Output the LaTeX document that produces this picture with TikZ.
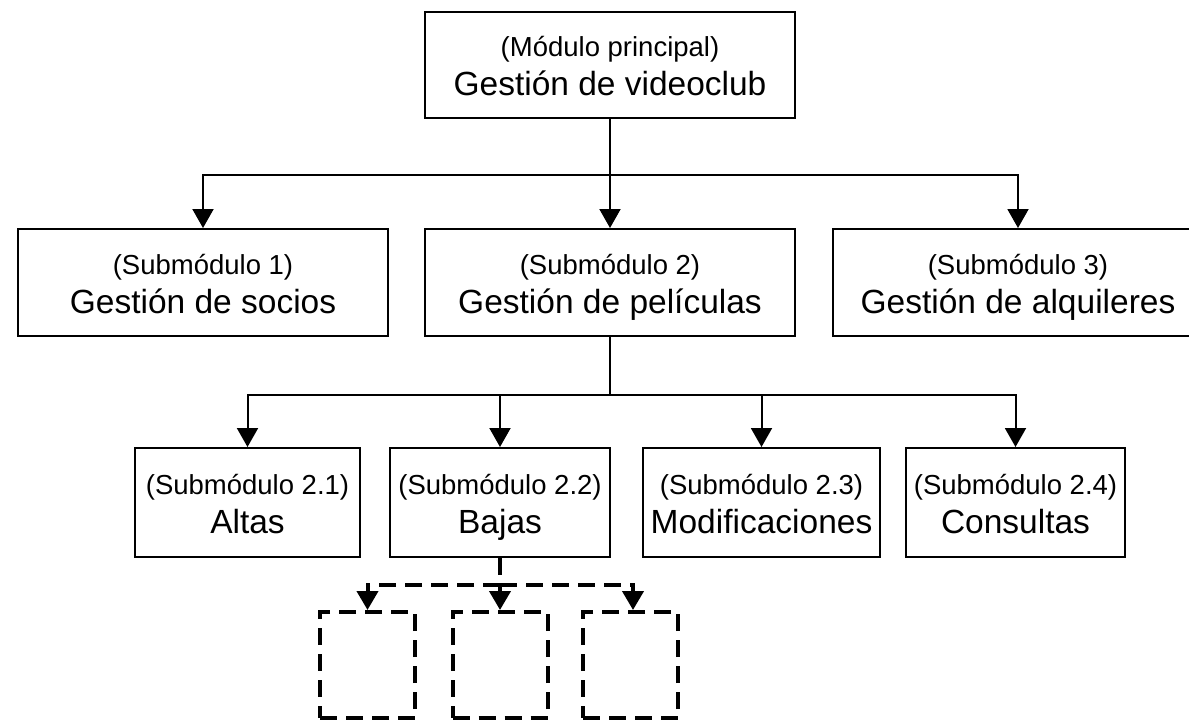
\documentclass[tikz,border=0pt]{standalone}
\usepackage{fontspec}
\setmainfont{Liberation Sans}
\usetikzlibrary{arrows.meta}
\newcommand{\twolines}[2]{{\fontsize{27.5}{39}\selectfont\rule{0pt}{30pt}#1}\\\rule[-8pt]{0pt}{8pt}#2}
\begin{document}
\begin{tikzpicture}[x=1pt,y=-1pt,
  box/.style={draw, line width=2pt, inner sep=0pt, minimum height=107pt, align=center,
    font=\fontsize{33.5}{39}\selectfont},
  dbox/.style={draw, line width=4pt, dash pattern=on 17pt off 9pt,
    minimum width=95pt, minimum height=106pt, inner sep=0pt},
  conn/.style={line width=2pt},
  arr/.style={conn, -{Triangle[width=21pt,length=19pt]}},
  dline/.style={line width=4pt, dash pattern=on 17pt off 9pt},
  darr/.style={dline, -{Triangle[width=21pt,length=19pt]}}]
\useasboundingbox (0,0) rectangle (1189,723);
\clip (0,0) rectangle (1189,723);
\fill[white] (0,0) rectangle (1189,723);
% top
\node[box, minimum width=370pt, minimum height=106pt] (main) at (610,65)
  {\twolines{(Módulo principal)}{Gestión de videoclub}};
% level 2
\node[box, minimum width=370pt] (s1) at (203,282.5)
  {\twolines{(Submódulo 1)}{Gestión de socios}};
\node[box, minimum width=370pt] (s2) at (610,282.5)
  {\twolines{(Submódulo 2)}{Gestión de películas}};
\node[box, minimum width=370pt] (s3) at (1018,282.5)
  {\twolines{(Submódulo 3)}{Gestión de alquileres}};
% level 3
\node[box, minimum width=225pt, minimum height=109pt] (s21) at (247.5,502.5)
  {\twolines{(Submódulo 2.1)}{Altas}};
\node[box, minimum width=220pt, minimum height=109pt] (s22) at (500,502.5)
  {\twolines{(Submódulo 2.2)}{Bajas}};
\node[box, minimum width=237pt, minimum height=109pt] (s23) at (761.5,502.5)
  {\twolines{(Submódulo 2.3)}{Modificaciones}};
\node[box, minimum width=219pt, minimum height=109pt] (s24) at (1015.5,502.5)
  {\twolines{(Submódulo 2.4)}{Consultas}};
% dashed boxes
\node[dbox] (d1) at (367.5,665) {};
\node[dbox] (d2) at (500,665) {};
\node[dbox] (d3) at (630.5,665) {};
% connectors level 1 -> 2
\coordinate (b1) at (610,175);
\draw[conn] (main.south) -- (b1);
\draw[arr] (b1) -| (s1.north);
\draw[arr] (b1) -- (s2.north);
\draw[arr] (b1) -| (s3.north);
% connectors level 2 -> 3
\coordinate (b2) at (610,395);
\draw[conn] (s2.south) -- (b2);
\draw[arr] (b2) -| (s21.north);
\draw[arr] (b2) -| (s22.north);
\draw[arr] (b2) -| (s23.north);
\draw[arr] (b2) -| (s24.north);
% dashed connectors
\coordinate (b3) at (500,585);
\draw[dline] (s22.south) -- (b3);
\draw[darr] (b3) -| (d1.north);
\draw[darr] (b3) -- (d2.north);
\draw[darr] (b3) -| ([xshift=2.5pt]d3.north);
\end{tikzpicture}
\end{document}
